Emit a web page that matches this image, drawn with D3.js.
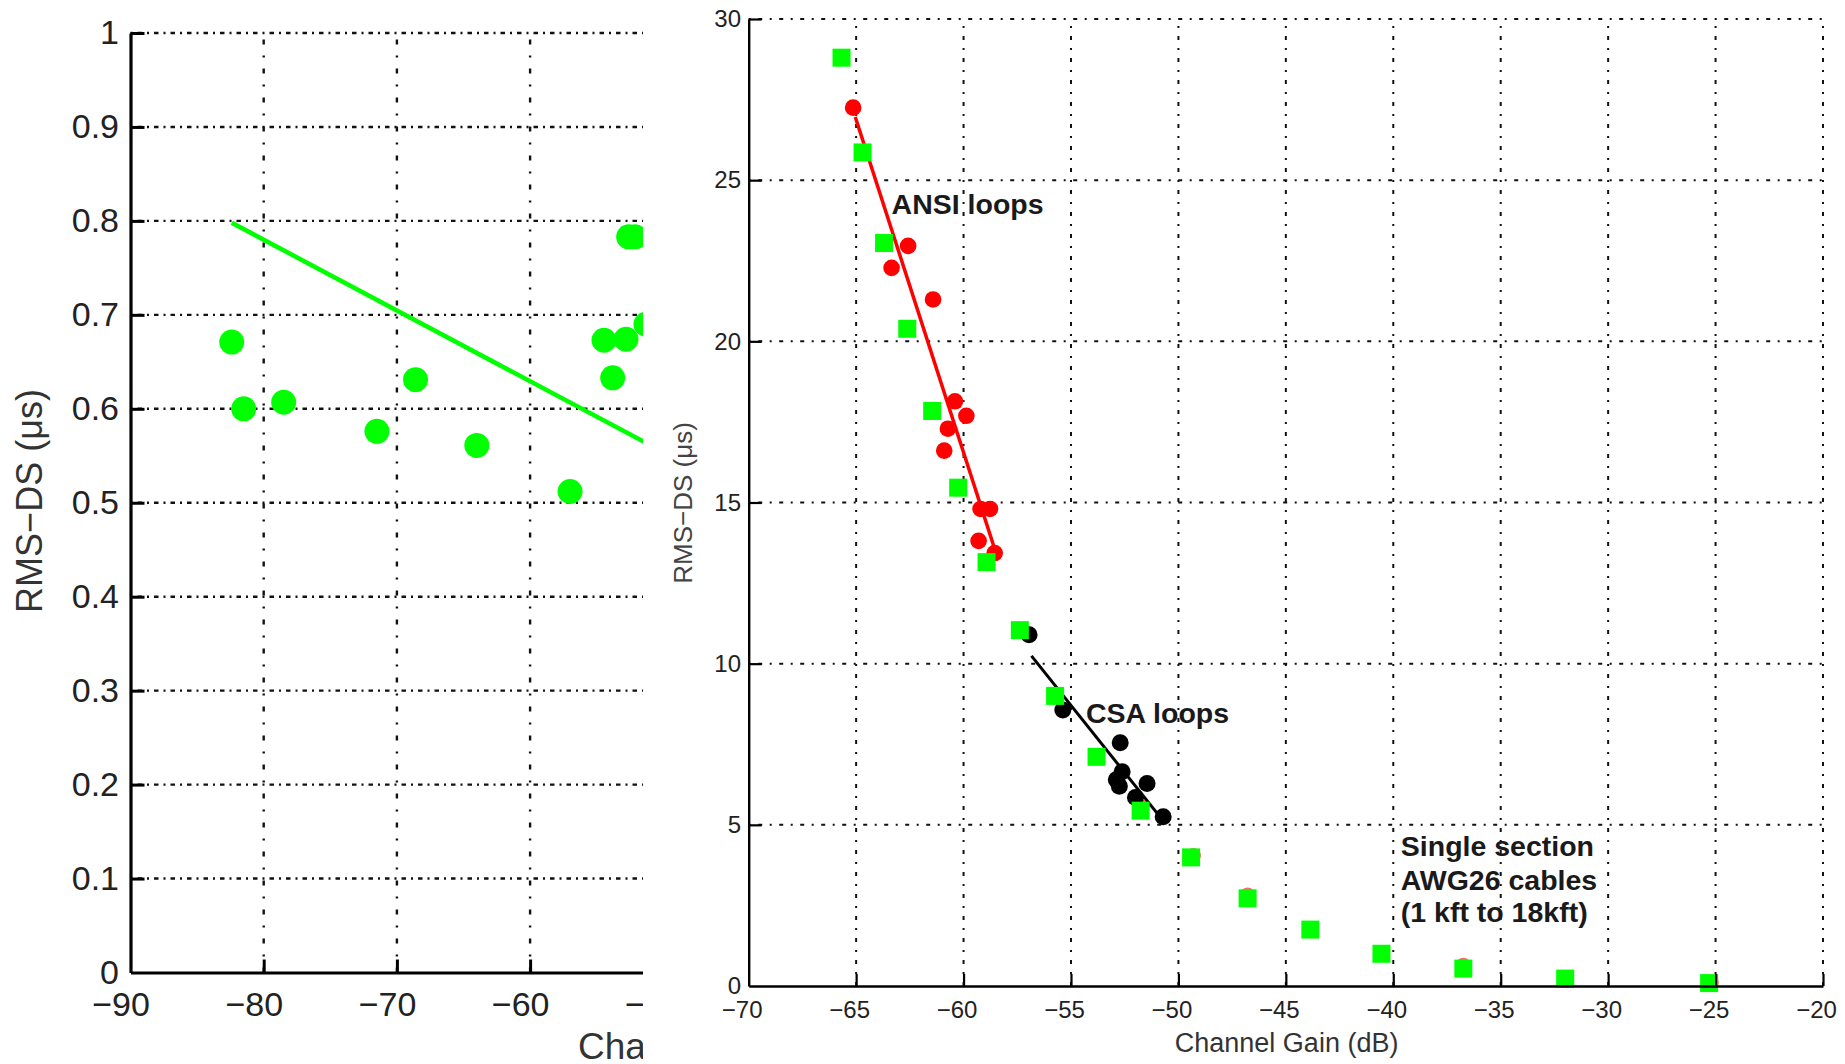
<!DOCTYPE html>
<html><head><meta charset="utf-8">
<script src="https://cdn.jsdelivr.net/npm/d3@7"></script>
<style>
body{margin:0;background:#fff}
svg{display:block}
text{font-family:"Liberation Sans",Arial,Helvetica,sans-serif}
</style>
</head><body>
<svg id="chart" width="1845" height="1064"></svg>
<script>
// ---------- LEFT PANEL DATA ----------
const leftXTicks = [-90, -80, -70, -60, -50];
const leftYTicks = [0, 0.1, 0.2, 0.3, 0.4, 0.5, 0.6, 0.7, 0.8, 0.9, 1];
const leftYTickLabels = ["0", "0.1", "0.2", "0.3", "0.4", "0.5", "0.6", "0.7", "0.8", "0.9", "1"];
const leftPointsX = [-82.4, -81.5, -78.5, -71.5, -68.6, -64.0, -57.0, -54.45, -53.8, -52.8, -52.6, -52.1, -51.3];
const leftPointsY = [0.671, 0.600, 0.607, 0.576, 0.631, 0.561, 0.512, 0.673, 0.633, 0.674, 0.783, 0.783, 0.690];
const leftFitX = [-82.4, -50];
const leftFitY = [0.798, 0.554];

// ---------- RIGHT PANEL DATA ----------
const rightXTicks = [-70, -65, -60, -55, -50, -45, -40, -35, -30, -25, -20];
const rightYTicks = [0, 5, 10, 15, 20, 25, 30];
const awgX = [-65.68, -64.70, -63.70, -62.62, -61.46, -60.25, -58.93, -57.38, -55.74, -53.81, -51.76, -49.41, -46.78, -43.86, -40.55, -36.74, -32.0, -25.3];
const awgY = [28.80, 25.86, 23.05, 20.39, 17.84, 15.46, 13.15, 11.04, 9.00, 7.11, 5.44, 3.99, 2.72, 1.75, 1.00, 0.54, 0.23, 0.09];
const ansiX = [-65.14, -62.58, -63.35, -61.42, -60.40, -59.87, -60.73, -60.90, -59.21, -58.77, -59.30, -58.55];
const ansiY = [27.25, 22.96, 22.28, 21.30, 18.14, 17.69, 17.29, 16.61, 14.80, 14.80, 13.81, 13.43];
const hiddenRedX = [-51.7, -49.3, -46.78, -36.74, -25.2];
const hiddenRedY = [5.55, 4.05, 2.82, 0.64, 0.12];
const ansiFitX = [-65.04, -58.45];
const ansiFitY = [26.96, 13.35];
const csaX = [-56.95, -55.38, -52.71, -52.62, -52.89, -51.46, -52.0, -50.71, -52.75];
const csaY = [10.90, 8.56, 7.55, 6.65, 6.40, 6.28, 5.85, 5.25, 6.20];
const csaFitX = [-56.84, -50.93];
const csaFitY = [10.24, 5.31];
const annotations = [
  {text: "ANSI loops", x: -63.35, y: 23.95},
  {text: "CSA loops", x: -54.3, y: 8.15},
  {text: "Single section", x: -39.65, y: 4.02},
  {text: "AWG26 cables", x: -39.65, y: 2.98},
  {text: "(1 kft to 18kft)", x: -39.65, y: 1.99}
];

const svg = d3.select("#chart");
const GRID_COLOR = "#111";
const fmt = d => d < 0 ? "\u2212" + Math.abs(d) : String(d);

// Hang minus sign: centre digits on tick
function hangMinus(sel) {
  sel.each(function() {
    const t = d3.select(this);
    const s = t.text();
    if (s.startsWith("\u2212")) {
      const full = this.getComputedTextLength();
      const tmp = t.clone(false).text(s.slice(1));
      const dig = tmp.node().getComputedTextLength();
      tmp.remove();
      t.attr("dx", -(full - dig) / 2);
    }
  });
}

// ================= LEFT PANEL =================
const xL = d3.scaleLinear().domain([-90, -50]).range([130.5, 663.3]);
const yL = d3.scaleLinear().domain([0, 1]).range([972.5, 33]);

svg.append("defs").append("clipPath").attr("id", "leftClip")
  .append("rect").attr("x", 0).attr("y", 0).attr("width", 643).attr("height", 1064);

const L = svg.append("g").attr("clip-path", "url(#leftClip)");

// grid
L.append("g").selectAll("line").data(leftXTicks.slice(1)).join("line")
  .attr("x1", d => xL(d)).attr("x2", d => xL(d))
  .attr("y1", yL(0)).attr("y2", yL(1))
  .attr("stroke", GRID_COLOR).attr("stroke-width", 2.4)
  .attr("stroke-dasharray", "5 11 2 11");
L.append("g").selectAll("line").data(leftYTicks.slice(1)).join("line")
  .attr("x1", xL(-90)).attr("x2", xL(-50))
  .attr("y1", d => yL(d)).attr("y2", d => yL(d))
  .attr("stroke", GRID_COLOR).attr("stroke-width", 2.4)
  .attr("stroke-dasharray", "2 5 4.5 5");

// fit line
L.append("line")
  .attr("x1", xL(leftFitX[0])).attr("y1", yL(leftFitY[0]))
  .attr("x2", xL(leftFitX[1])).attr("y2", yL(leftFitY[1]))
  .attr("stroke", "#00ff00").attr("stroke-width", 4.5);

// points
L.append("g").selectAll("ellipse").data(leftPointsX.map((x, i) => [x, leftPointsY[i]])).join("ellipse")
  .attr("cx", d => xL(d[0])).attr("cy", d => yL(d[1]))
  .attr("rx", 12.5).attr("ry", 12.5).attr("fill", "#00ff00");

// axes
const axL_x = L.append("g").attr("transform", `translate(0,${yL(0)})`)
  .call(d3.axisBottom(xL).tickValues(leftXTicks).tickFormat(fmt).tickSizeInner(-13).tickSizeOuter(0).tickPadding(19.4));
const axL_y = L.append("g").attr("transform", `translate(${xL(-90)},0)`)
  .call(d3.axisLeft(yL).tickValues(leftYTicks).tickFormat((d, i) => leftYTickLabels[i]).tickSizeInner(-14).tickSizeOuter(0).tickPadding(11.5));
[axL_x, axL_y].forEach(a => {
  a.attr("font-family", null).attr("font-size", null);
  a.select(".domain").attr("stroke", "#000").attr("stroke-width", 3.2);
  a.selectAll(".tick line").attr("stroke", "#000").attr("stroke-width", 3);
  a.selectAll(".tick text").attr("fill", "#222").style("font-size", "34px");
});
axL_x.selectAll(".tick text").call(hangMinus);
axL_x.selectAll(".tick").filter(d => d === -90).select("line").remove();
axL_y.selectAll(".tick").filter(d => d === 0).select("line").remove();

L.append("text").attr("x", 578).attr("y", 1059)
  .attr("fill", "#333").style("font-size", "37px").text("Channel Gain (dB)");

svg.append("text")
  .attr("transform", `translate(42,501) rotate(-90)`)
  .attr("text-anchor", "middle").attr("fill", "#333").style("font-size", "36px")
  .text("RMS\u2212DS (\u03bcs)");

// ================= RIGHT PANEL =================
const xR = d3.scaleLinear().domain([-70, -20]).range([748.7, 1823]);
const yR = d3.scaleLinear().domain([0, 30]).range([986, 19]);
const R = svg.append("g");

R.append("g").selectAll("line").data(rightXTicks.slice(1)).join("line")
  .attr("x1", d => xR(d)).attr("x2", d => xR(d))
  .attr("y1", yR(0)).attr("y2", yR(30))
  .attr("stroke", GRID_COLOR).attr("stroke-width", 2)
  .attr("stroke-dasharray", "4 8 2 8");
R.append("g").selectAll("line").data(rightYTicks.slice(1)).join("line")
  .attr("x1", xR(-70)).attr("x2", xR(-20))
  .attr("y1", d => yR(d)).attr("y2", d => yR(d))
  .attr("stroke", GRID_COLOR).attr("stroke-width", 2)
  .attr("stroke-dasharray", "2 7.5 4 7.5");

// ANSI (red)
R.append("g").selectAll("circle").data(ansiX.map((x, i) => [x, ansiY[i]])).join("circle")
  .attr("cx", d => xR(d[0])).attr("cy", d => yR(d[1])).attr("r", 8.3).attr("fill", "#ff0000");
R.append("g").selectAll("circle").data(hiddenRedX.map((x, i) => [x, hiddenRedY[i]])).join("circle")
  .attr("cx", d => xR(d[0])).attr("cy", d => yR(d[1])).attr("r", 7.5).attr("fill", "#ff6666");
R.append("line")
  .attr("x1", xR(ansiFitX[0])).attr("y1", yR(ansiFitY[0]))
  .attr("x2", xR(ansiFitX[1])).attr("y2", yR(ansiFitY[1]))
  .attr("stroke", "#ff0000").attr("stroke-width", 3.5);

// CSA (black)
R.append("g").selectAll("circle").data(csaX.map((x, i) => [x, csaY[i]])).join("circle")
  .attr("cx", d => xR(d[0])).attr("cy", d => yR(d[1])).attr("r", 8.5).attr("fill", "#000");
R.append("line")
  .attr("x1", xR(csaFitX[0])).attr("y1", yR(csaFitY[0]))
  .attr("x2", xR(csaFitX[1])).attr("y2", yR(csaFitY[1]))
  .attr("stroke", "#000").attr("stroke-width", 3);

// AWG26 (green squares)
const sq = 18;
R.append("g").selectAll("rect").data(awgX.map((x, i) => [x, awgY[i]])).join("rect")
  .attr("x", d => xR(d[0]) - sq / 2).attr("y", d => yR(d[1]) - sq / 2)
  .attr("width", sq).attr("height", sq).attr("fill", "#00ff00");

// axes
const axR_x = R.append("g").attr("transform", `translate(0,${yR(0)})`)
  .call(d3.axisBottom(xR).tickValues(rightXTicks).tickFormat(fmt).tickSizeInner(-12).tickSizeOuter(0).tickPadding(15));
const axR_y = R.append("g").attr("transform", `translate(${xR(-70)},0)`)
  .call(d3.axisLeft(yR).tickValues(rightYTicks).tickSizeInner(-13).tickSizeOuter(0).tickPadding(7.7));
[axR_x, axR_y].forEach(a => {
  a.attr("font-family", null).attr("font-size", null);
  a.select(".domain").attr("stroke", "#000").attr("stroke-width", 2.4);
  a.selectAll(".tick line").attr("stroke", "#000").attr("stroke-width", 2.2);
  a.selectAll(".tick text").attr("fill", "#222").style("font-size", "24px");
});
axR_x.selectAll(".tick text").call(hangMinus);
axR_x.selectAll(".tick").filter(d => d === -70).select("line").remove();
axR_y.selectAll(".tick").filter(d => d === 0).select("line").remove();

R.append("text").attr("x", 1286.6).attr("y", 1052).attr("text-anchor", "middle")
  .attr("fill", "#333").style("font-size", "27px").text("Channel Gain (dB)");
R.append("text")
  .attr("transform", `translate(692,503) rotate(-90)`)
  .attr("text-anchor", "middle").attr("fill", "#444").style("font-size", "26px")
  .text("RMS\u2212DS (\u03bcs)");

// annotations
R.append("g").selectAll("text").data(annotations).join("text")
  .attr("x", d => xR(d.x)).attr("y", d => yR(d.y))
  .attr("fill", "#1a1a1a").style("font-size", "28.5px").style("font-weight", "bold")
  .text(d => d.text);
</script>
</body></html>
